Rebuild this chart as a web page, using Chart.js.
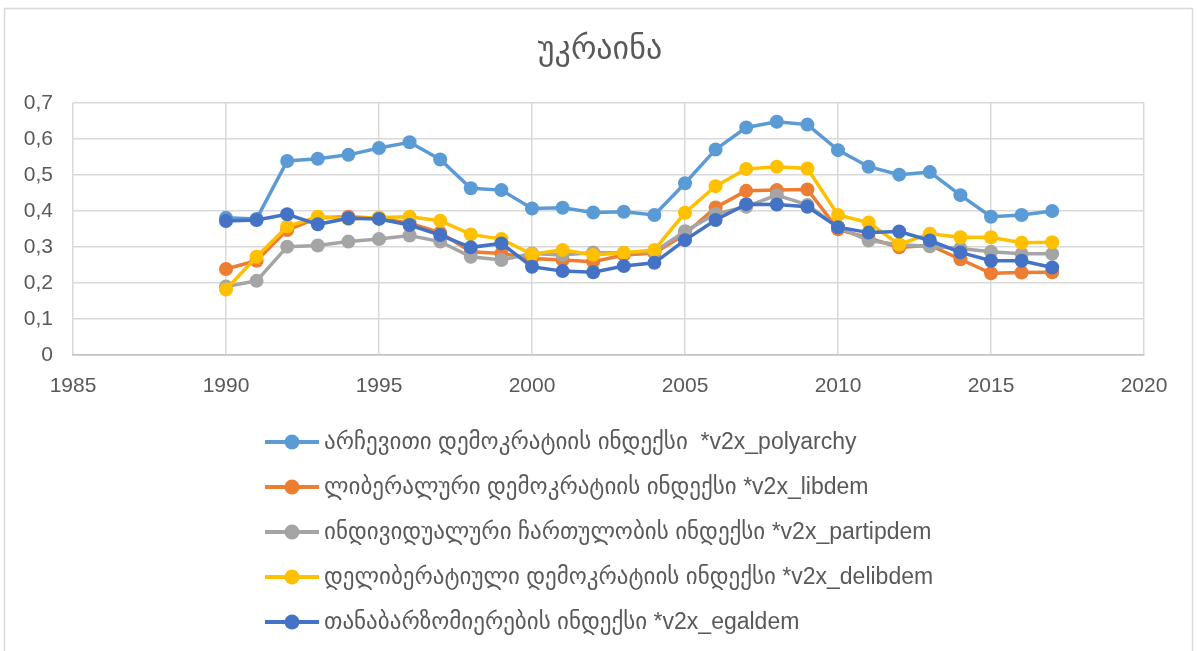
<!DOCTYPE html>
<html>
<head>
<meta charset="utf-8">
<title>უკრაინა</title>
<script src="https://cdn.jsdelivr.net/npm/chart.js@4/dist/chart.umd.min.js"></script>
<style>
  html, body { margin: 0; padding: 0; background: #fff; }
  #wrap { width: 1197px; height: 651px; }
</style>
</head>
<body>
<div id="wrap"><canvas id="myChart" width="1197" height="651"></canvas></div>
<script>
// V-Dem indices for Ukraine, 1990-2017
var chartTitle = 'უკრაინა';

var years = [1990, 1991, 1992, 1993, 1994, 1995, 1996, 1997, 1998, 1999,
             2000, 2001, 2002, 2003, 2004, 2005, 2006, 2007, 2008, 2009,
             2010, 2011, 2012, 2013, 2014, 2015, 2016, 2017];

var polyarchy = [0.381, 0.378, 0.539, 0.545, 0.556, 0.575, 0.591, 0.543, 0.463, 0.458,
                 0.407, 0.409, 0.396, 0.398, 0.389, 0.477, 0.571, 0.632, 0.648, 0.640,
                 0.569, 0.523, 0.501, 0.508, 0.444, 0.384, 0.389, 0.400];
var libdem = [0.239, 0.262, 0.347, 0.381, 0.384, 0.380, 0.366, 0.340, 0.287, 0.282,
              0.268, 0.264, 0.259, 0.278, 0.283, 0.335, 0.410, 0.456, 0.458, 0.460,
              0.349, 0.325, 0.299, 0.305, 0.266, 0.227, 0.229, 0.230];
var partipdem = [0.190, 0.206, 0.301, 0.304, 0.315, 0.322, 0.332, 0.315, 0.273, 0.264,
                 0.282, 0.278, 0.285, 0.283, 0.287, 0.344, 0.392, 0.412, 0.444, 0.417,
                 0.355, 0.318, 0.306, 0.302, 0.296, 0.287, 0.281, 0.281];
var delibdem = [0.182, 0.273, 0.357, 0.384, 0.378, 0.382, 0.384, 0.373, 0.335, 0.322,
                0.280, 0.292, 0.278, 0.284, 0.292, 0.395, 0.469, 0.517, 0.523, 0.518,
                0.389, 0.368, 0.307, 0.337, 0.327, 0.327, 0.312, 0.313];
var egaldem = [0.372, 0.375, 0.391, 0.363, 0.380, 0.378, 0.361, 0.333, 0.299, 0.310,
               0.245, 0.233, 0.230, 0.247, 0.256, 0.319, 0.375, 0.419, 0.418, 0.412,
               0.355, 0.340, 0.343, 0.318, 0.285, 0.262, 0.262, 0.243];

var seriesNames = [
    'არჩევითი დემოკრატიის ინდექსი  *v2x_polyarchy',
    'ლიბერალური დემოკრატიის ინდექსი *v2x_libdem',
    'ინდივიდუალური ჩართულობის ინდექსი *v2x_partipdem',
    'დელიბერატიული დემოკრატიის ინდექსი *v2x_delibdem',
    'თანაბარზომიერების ინდექსი *v2x_egaldem'
];
var seriesValues = [polyarchy, libdem, partipdem, delibdem, egaldem];
var seriesColors = ['#5B9BD5', '#ED7D31', '#A5A5A5', '#FFC000', '#4472C4'];

var xTicks = [1985, 1990, 1995, 2000, 2005, 2010, 2015, 2020];
var yTicks = [0, 0.1, 0.2, 0.3, 0.4, 0.5, 0.6, 0.7];

var textColor = '#595959';
var fontFamily = '"Liberation Sans", "DejaVu Sans", sans-serif';

var datasets = [];
for (let i = 0; i < seriesValues.length; i++) {
    datasets.push({
        label: seriesNames[i],
        data: years.map((yr, k) => ({ x: yr, y: seriesValues[i][k] })),
        borderColor: seriesColors[i],
        backgroundColor: seriesColors[i],
        borderWidth: 3.5,
        pointRadius: 7,
        pointHoverRadius: 7,
        pointBorderWidth: 0,
        tension: 0,
        // Excel paints later series on top; in Chart.js lower order is on top
        order: seriesValues.length - i
    });
}

// outer frame of the Excel chart object, plus the title centred on the page
var framePlugin = {
    id: 'frame',
    beforeDraw: function(chart) {
        var ctx = chart.ctx;
        ctx.save();
        ctx.strokeStyle = '#d9d9d9';
        ctx.lineWidth = 1.5;
        ctx.strokeRect(4.5, 8.5, 1188, 700);
        ctx.fillStyle = textColor;
        ctx.font = '32px ' + fontFamily;
        ctx.textAlign = 'center';
        ctx.textBaseline = 'middle';
        ctx.fillText(chartTitle, 600, 50);
        ctx.restore();
    }
};

// one legend entry per row, left aligned, like the original
var legendPlugin = {
    id: 'rowLegend',
    afterDraw: function(chart) {
        var ctx = chart.ctx;
        ctx.save();
        chart.data.datasets.forEach((ds, i) => {
            var y = 442 + i * 45;
            ctx.strokeStyle = ds.borderColor;
            ctx.lineWidth = 4;
            ctx.beginPath();
            ctx.moveTo(265, y);
            ctx.lineTo(319, y);
            ctx.stroke();
            ctx.fillStyle = ds.borderColor;
            ctx.beginPath();
            ctx.arc(292, y, 7.5, 0, Math.PI * 2);
            ctx.fill();
            ctx.fillStyle = textColor;
            ctx.font = '23px ' + fontFamily;
            ctx.textAlign = 'left';
            ctx.textBaseline = 'middle';
            ctx.fillText(ds.label, 324, y + 1);
        });
        ctx.restore();
    }
};

var ctx = document.getElementById('myChart').getContext('2d');
var myChart = new Chart(ctx, {
    type: 'line',
    data: { datasets: datasets },
    options: {
        responsive: false,
        animation: false,
        events: [],
        layout: {
            padding: { left: 10, right: 53, top: 103, bottom: 236 }
        },
        plugins: {
            legend: { display: false },
            tooltip: { enabled: false },
            title: { display: false }
        },
        scales: {
            x: {
                type: 'linear',
                min: xTicks[0],
                max: xTicks[xTicks.length - 1],
                afterBuildTicks: function(scale) {
                    scale.ticks = xTicks.map(v => ({ value: v }));
                },
                afterFit: function(scale) { scale.height = 60; },
                grid: { color: '#d9d9d9', lineWidth: 1.5, drawTicks: false },
                border: { color: '#bfbfbf', width: 1.5 },
                ticks: {
                    color: textColor,
                    font: { family: fontFamily, size: 21 },
                    padding: 19,
                    maxRotation: 0,
                    callback: function(v) { return String(v); }
                }
            },
            y: {
                min: yTicks[0],
                max: yTicks[yTicks.length - 1],
                afterBuildTicks: function(scale) {
                    scale.ticks = yTicks.map(v => ({ value: v }));
                },
                afterFit: function(scale) { scale.width = 63; },
                grid: { color: '#d9d9d9', lineWidth: 1.5, drawTicks: false },
                border: { display: false },
                ticks: {
                    color: textColor,
                    font: { family: fontFamily, size: 21 },
                    padding: 20,
                    callback: function(v) {
                        return v === 0 ? '0' : v.toFixed(1).replace('.', ',');
                    }
                }
            }
        }
    },
    plugins: [framePlugin, legendPlugin]
});
</script>
</body>
</html>
